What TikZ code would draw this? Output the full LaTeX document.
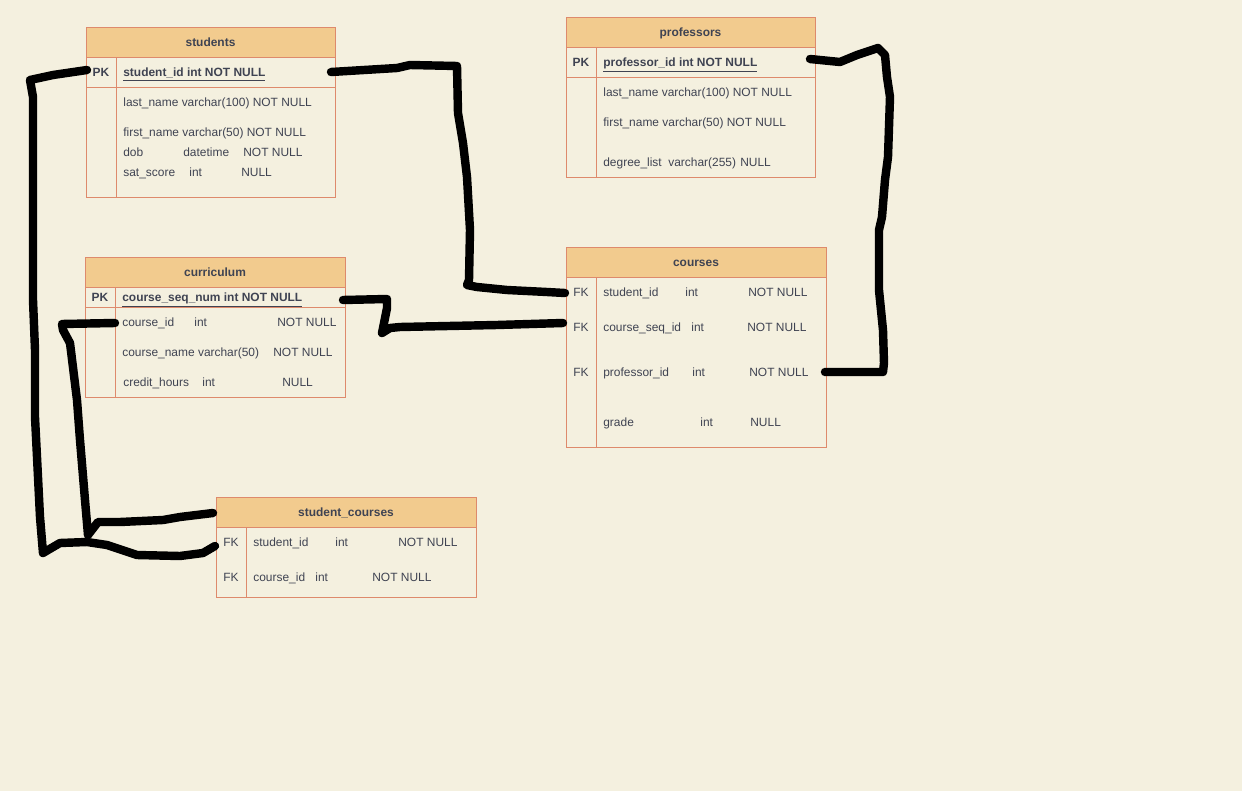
\documentclass[tikz,border=0pt]{standalone}
\usepackage{fontspec}
\setmainfont{Liberation Sans}
\definecolor{paper}{HTML}{F4F0DF}
\definecolor{head}{HTML}{F2CB8E}
\definecolor{edge}{HTML}{DE8A6C}
\definecolor{ink}{HTML}{3F4352}
\newcommand{\tfont}{\fontsize{6.8}{8}\selectfont}
\tikzset{
  txt/.style={text=ink,inner sep=0pt,text height=4.9pt,text depth=0pt},
  tbl/.style={draw=edge,line width=0.5pt},
  hdr/.style={txt,font=\tfont\bfseries},
  fld/.style={txt,font=\tfont,anchor=west},
  key/.style={txt,font=\tfont},
  wire/.style={line width=4.8pt,line cap=round,line join=round},
}
% table frame: name, x1, y1, x2, y2, title
\newcommand{\tablebox}[6]{%
  \fill[head] (#2,#3) rectangle (#4,#3+30);
  \draw[tbl] (#2,#3) rectangle (#4,#5);
  \draw[tbl] (#2,#3+30) -- (#4,#3+30);
  \draw[tbl] (#2+30,#3+30) -- (#2+30,#5);
  \node[hdr] (#1) at ({(#2+#4)/2},#3+15) {#6};
}

\begin{document}
\begin{tikzpicture}[x=0.02cm,y=-0.02cm]
  \fill[paper] (0,0) rectangle (1242,791); % page
  \useasboundingbox (0,0) rectangle (1242,791);

  % students
  \tablebox{students}{86}{27}{335}{197}{students}
  \draw[tbl] (86,87) -- (335,87); % under PK
  \node[key,font=\tfont\bfseries] (stu-pk) at (101,72) {PK};
  \node[fld,font=\tfont\bfseries] (stu-id) at (123,72) {\underline{student\_id int NOT NULL}};
  \node[fld] (stu-last) at (123,102) {last\_name varchar(100) NOT NULL};
  \node[fld] (stu-first) at (123,132) {first\_name varchar(50) NOT NULL};
  \foreach \n/\y/\a/\b/\c/\xb/\xc in {dob/152/dob/datetime/NOT NULL/183/243,
                                     sat/172/sat\_score/int/NULL/189/241}{
    \node[fld] (stu-\n-a) at (123,\y) {\a};
    \node[fld] (stu-\n-b) at (\xb,\y) {\b};
    \node[fld] (stu-\n-c) at (\xc,\y) {\c};
  }

  % professors
  \tablebox{professors}{566}{17}{815}{177}{professors}
  \draw[tbl] (566,77) -- (815,77); % under PK
  \node[key,font=\tfont\bfseries] (pro-pk) at (581,62) {PK};
  \node[fld,font=\tfont\bfseries] (pro-id) at (603,62) {\underline{professor\_id int NOT NULL}};
  \node[fld] (pro-last) at (603,92) {last\_name varchar(100) NOT NULL};
  \node[fld] (pro-first) at (603,122) {first\_name varchar(50) NOT NULL};
  \node[fld] (pro-deg-a) at (603,162) {degree\_list};
  \node[fld] (pro-deg-b) at (668,162) {varchar(255)};
  \node[fld] (pro-deg-c) at (740,162) {NULL};

  % curriculum
  \tablebox{curriculum}{85}{257}{345}{397}{curriculum}
  \draw[tbl] (85,307) -- (345,307); % under PK
  \node[key,font=\tfont\bfseries] (cur-pk) at (100,297) {PK};
  \node[fld,font=\tfont\bfseries] (cur-seq) at (122,297) {\underline{course\_seq\_num int NOT NULL}};
  \node[fld] (cur-cid-a) at (122,322) {course\_id};
  \node[fld] (cur-cid-b) at (194,322) {int};
  \node[fld] (cur-cid-c) at (277,322) {NOT NULL};
  \node[fld] (cur-name-a) at (122,352) {course\_name varchar(50)};
  \node[fld] (cur-name-c) at (273,352) {NOT NULL};
  \node[fld] (cur-hrs-a) at (123,382) {credit\_hours};
  \node[fld] (cur-hrs-b) at (202,382) {int};
  \node[fld] (cur-hrs-c) at (282,382) {NULL};

  % courses
  \tablebox{courses}{566}{247}{826}{447}{courses}
  \foreach \n/\y in {sid/292,seq/327,pid/372}
    \node[key] (crs-\n-fk) at (581,\y) {FK};
  \foreach \n/\y/\a/\xb/\xc/\c in {sid/292/student\_id/685/748/NOT NULL,
                                  seq/327/course\_seq\_id/691/747/NOT NULL,
                                  pid/372/professor\_id/692/749/NOT NULL,
                                  grd/422/grade/700/750/NULL}{
    \node[fld] (crs-\n-a) at (603,\y) {\a};
    \node[fld] (crs-\n-b) at (\xb,\y) {int};
    \node[fld] (crs-\n-c) at (\xc,\y) {\c};
  }

  % student_courses
  \tablebox{stucourses}{216}{497}{476}{597}{student\_courses}
  \foreach \n/\y/\a/\xb/\xc in {sid/542/student\_id/335/398,
                               cid/577/course\_id/315/372}{
    \node[key] (sc-\n-fk) at (231,\y) {FK};
    \node[fld] (sc-\n-a) at (253,\y) {\a};
    \node[fld] (sc-\n-b) at (\xb,\y) {int};
    \node[fld] (sc-\n-c) at (\xc,\y) {NOT NULL};
  }

  % connector ends
  \coordinate (stuR) at (331,72);
  \coordinate (stuL) at (87,70);
  \coordinate (proR) at (810,59);
  \coordinate (curR) at (343,300);
  \coordinate (curCid) at (115,323);
  \coordinate (crsSid) at (565,293);
  \coordinate (crsSeq) at (563,323);
  \coordinate (crsPid) at (825,372);
  \coordinate (scHead) at (213,513);
  \coordinate (scSid) at (215,546);

  % hand drawn links
  \draw[wire] (stuR) -- (397,68) -- (410,65) -- (457,66) -- (458,113) -- (463,143)
    -- (467,177) -- (470,230) -- (469,280) -- (467,285) -- (477,287) -- (507,290)
    -- (547,292) -- (crsSid);
  \draw[wire] (stuL) -- (53,75) -- (30,80) -- (33,97) -- (33,300) -- (35,350)
    -- (35,417) -- (40,517) -- (43,553) -- (48,550) -- (60,543) -- (87,542)
    -- (107,545) -- (137,555) -- (180,556) -- (203,553) -- (scSid);
  \draw[wire] (curCid) -- (62,324) -- (63,330) -- (70,343) -- (77,400) -- (80,440)
    -- (85,500) -- (88,535) -- (98,522) -- (120,522) -- (163,520) -- (180,517)
    -- (scHead);
  \draw[wire] (curR) -- (387,299) -- (387,308) -- (382,333) -- (390,328) -- (400,327)
    -- (497,325) -- (crsSeq);
  \draw[wire] (proR) -- (840,62) -- (857,55) -- (878,48) -- (885,55) -- (887,77)
    -- (890,97) -- (888,157) -- (885,180) -- (882,217) -- (879,230) -- (879,290)
    -- (883,330) -- (884,363) -- (883,372) -- (crsPid);
\end{tikzpicture}
\end{document}
